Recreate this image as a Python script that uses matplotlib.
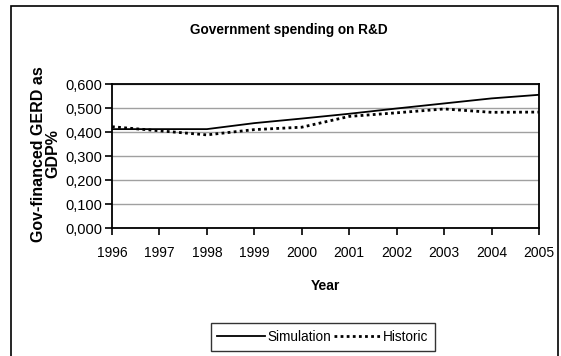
import matplotlib
matplotlib.use("Agg")
import matplotlib.pyplot as plt
from matplotlib.patches import Rectangle

years = [1996, 1997, 1998, 1999, 2000, 2001, 2002, 2003, 2004, 2005]
simulation = [0.412, 0.412, 0.412, 0.437, 0.456, 0.476, 0.498, 0.519, 0.540, 0.555]
historic = [0.422, 0.405, 0.388, 0.410, 0.420, 0.465, 0.480, 0.496, 0.482, 0.483]
yticks = [0.0, 0.1, 0.2, 0.3, 0.4, 0.5, 0.6]
ytick_labels = ["0,000", "0,100", "0,200", "0,300", "0,400", "0,500", "0,600"]

plt.rcParams['font.family'] = ["Liberation Sans", "DejaVu Sans"]

W, H = 561, 356
fig = plt.figure(figsize=(W / 100, H / 100), dpi=100)
fig.patch.set_facecolor("white")

# outer chart border
fig.patches.append(Rectangle((11 / W, -0.05), (558 - 11) / W, 1 - 6 / H + 0.05,
                             transform=fig.transFigure, fill=False,
                             edgecolor="black", linewidth=1.2))

ax = fig.add_axes([112 / W, 1 - 228 / H, (539 - 112) / W, (228 - 84) / H])
ax.plot(years, simulation, color="black", linewidth=1.3, label="Simulation")
ax.plot(years, historic, color="black", linewidth=2.0, linestyle=(0, (1, 1.2)),
        label="Historic")

ax.set_xlim(1996, 2005)
ax.set_ylim(0, 0.6)
ax.set_yticks(yticks)
ax.set_yticklabels(ytick_labels)
ax.set_xticks(years)
ax.set_xticklabels([str(y) for y in years])
ax.yaxis.grid(True, color="#a0a0a0", linewidth=1.0)
ax.set_axisbelow(True)
for s in ax.spines.values():
    s.set_linewidth(1.3)
    s.set_color("black")
ax.tick_params(axis="both", direction="out", length=5, width=1.2,
               colors="black")
ax.tick_params(axis="x", pad=8, labelsize=10)
ax.tick_params(axis="y", pad=2, labelsize=10.5)

ax.set_xlabel("Year", fontsize=10, fontweight="bold", labelpad=14)
fig.text(46 / W, 1 - 154 / H, "Gov-financed GERD as\nGDP%", rotation=90,
         ha="center", va="center", fontsize=11.5, fontweight="bold",
         linespacing=0.95)
fig.text(289 / W, 1 - 30 / H, "Government spending on R&D", ha="center", va="center",
         fontsize=9.8, fontweight="bold")

leg = fig.legend(loc="center", bbox_to_anchor=(323 / W, 1 - 337 / H), ncol=2,
                 frameon=True, fancybox=False, fontsize=9.8, handlelength=3.5,
                 handletextpad=0.15, columnspacing=0.2, borderpad=0.5,
                 borderaxespad=0)
leg.get_frame().set_edgecolor("black")
leg.get_frame().set_linewidth(1.0)

fig.savefig("out.png", dpi=100, facecolor="white")
